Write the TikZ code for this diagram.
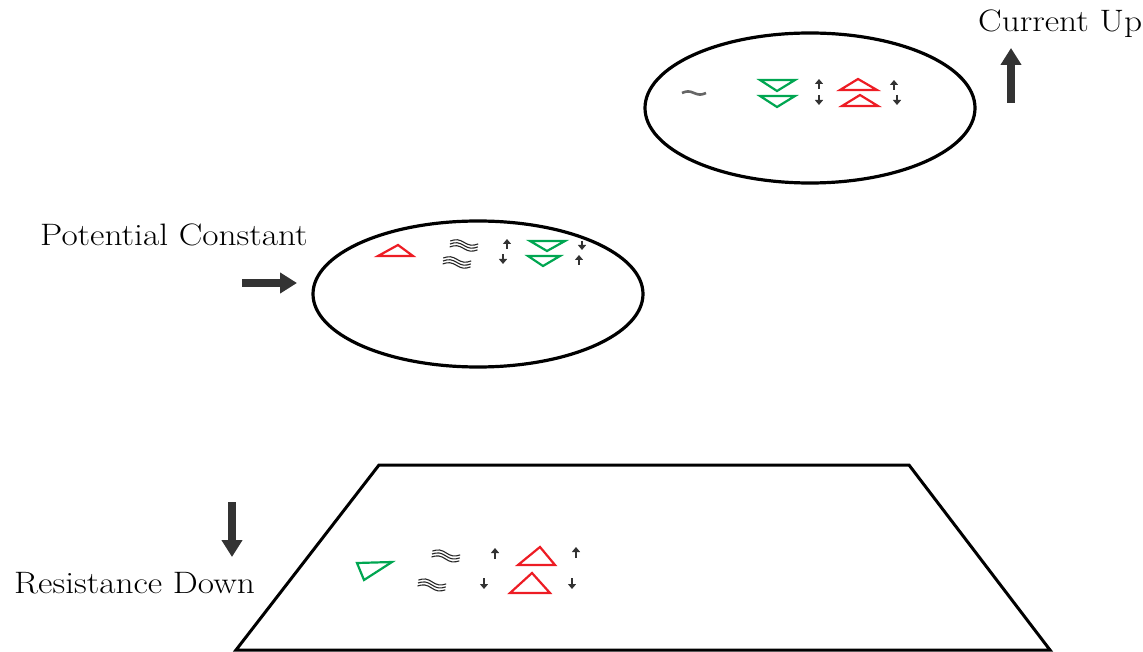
\documentclass[tikz,border=0pt]{standalone}
\usepackage{graphicx}
\usetikzlibrary{arrows.meta,shapes.geometric}
\definecolor{ggreen}{RGB}{0,166,81}
\definecolor{rred}{RGB}{237,28,36}
\definecolor{dgray}{RGB}{51,51,51}
\newcommand{\widetext}[1]{\scalebox{1.14}[1]{#1}}
\begin{document}
\begin{tikzpicture}[x=1pt,y=-1pt,
  lbl/.style={font=\fontsize{31}{36}\selectfont, inner sep=0pt, anchor=base west},
  disc/.style={draw, ellipse, line width=3.2pt, inner sep=0pt},
  plate/.style={draw, line width=3pt, line join=miter},
  bigarrow/.style={draw=dgray, line width=8pt, -{Triangle[length=17pt,width=20pt]}},
  sarr/.style={draw=dgray, line width=2pt, -{Triangle[length=5pt,width=8pt]}},
  gtri/.style={draw=ggreen, line width=2.2pt, line join=miter},
  rtri/.style={draw=rred, line width=2.2pt, line join=miter},
  wavy/.pic={\foreach \dy in {-3,0,3}{\draw[black!85,line width=1.1pt] (0,\dy) sin (7,\dy-2) cos (14,\dy) sin (21,\dy+2) cos (28,\dy);}},
  tld/.pic={\draw[black!60,line width=2.6pt] (0,0) sin (6,-1.6) cos (12,0) sin (18,1.6) cos (24,0);}
]
\useasboundingbox (0,0) rectangle (1143,652);

% ---------- top ellipse ----------
\node[disc, minimum width=330pt, minimum height=150pt] (top) at (810,108) {};
\pic at (682,93) {tld};
\draw[gtri] (760,80) -- (795,80) -- (777,91) -- cycle;
\draw[gtri] (760,96) -- (795,96) -- (777,107) -- cycle;
\draw[sarr] (819,89) -- (819,79);
\draw[sarr] (819,95) -- (819,105);
\draw[rtri] (840,90) -- (877,90) -- (858,79) -- cycle;
\draw[rtri] (842,106) -- (878,106) -- (860,95) -- cycle;
\draw[sarr] (894,90) -- (894,80);
\draw[sarr] (897,95) -- (897,105);

\node[lbl] (lup) at (978,32) {\widetext{Current Up}};
\coordinate (upa) at (1011,103);
\coordinate (upb) at (1011,48);
\draw[bigarrow] (upa) -- (upb);

% ---------- middle ellipse ----------
\node[disc, minimum width=330pt, minimum height=146pt] (mid) at (478,294) {};
\draw[rtri] (378,256) -- (413,256) -- (398,245) -- cycle;
\pic[rotate=-6] at (450,244) {wavy};
\pic[rotate=-6] at (443,261) {wavy};
\draw[sarr] (507,249) -- (507,239);
\draw[sarr] (503,254) -- (503,264);
\draw[gtri] (530,241) -- (565,241) -- (547,251) -- cycle;
\draw[gtri] (528,256) -- (560,256) -- (543,266) -- cycle;
\draw[sarr] (582,241) -- (582,250);
\draw[sarr] (579,265) -- (579,255);

\node[lbl] (lpot) at (40,246) {\widetext{Potential Constant}};
\coordinate (pa) at (242,283);
\coordinate (pb) at (297,283);
\draw[bigarrow] (pa) -- (pb);

% ---------- bottom plate ----------
\coordinate (tl) at (379,465);
\coordinate (tr) at (909,465);
\coordinate (br) at (1050,650);
\coordinate (bl) at (236,650);
\draw[plate] (tl) -- (tr) -- (br) -- (bl) -- cycle;

\draw[gtri] (357,563) -- (392,562) -- (364,580) -- cycle;
\pic[rotate=-8] at (432,554) {wavy};
\pic[rotate=-8] at (418,583) {wavy};
\draw[sarr] (495,559) -- (495,548);
\draw[sarr] (484,578) -- (484,589);
\draw[rtri] (518,565) -- (555,565) -- (540,547) -- cycle;
\draw[rtri] (510,593) -- (550,593) -- (532,573) -- cycle;
\draw[sarr] (576,558) -- (576,547);
\draw[sarr] (572,578) -- (572,589);

\node[lbl] (lres) at (14,593) {\widetext{Resistance Down}};
\coordinate (da) at (232,502);
\coordinate (db) at (232,557);
\draw[bigarrow] (da) -- (db);
\end{tikzpicture}
\end{document}
